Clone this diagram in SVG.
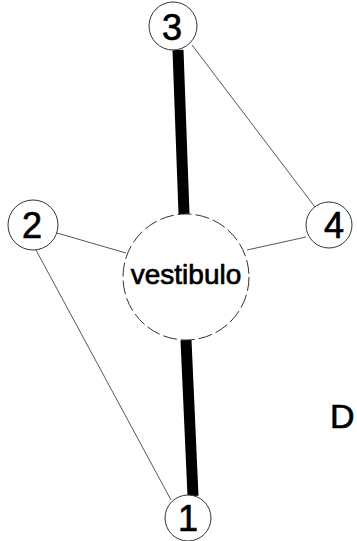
<svg xmlns="http://www.w3.org/2000/svg" width="357" height="541" viewBox="0 0 357 541">
<style>
.n{fill:#fff;stroke:#333;stroke-width:1}
.t{font-family:"Liberation Sans",Arial,sans-serif;fill:#000;stroke:#000;stroke-width:0.7}
.d{font-size:36px;text-anchor:middle}
.thin{stroke:#444;stroke-width:0.9;fill:none}
.thick{stroke:#000;stroke-width:11;fill:none}
</style>
<rect width="357" height="541" fill="#fff"/>
<g id="connectors">
<line class="thin" x1="192" y1="45" x2="315" y2="207"/>
<line class="thin" x1="57" y1="233" x2="126" y2="253"/>
<line class="thin" x1="306" y1="237" x2="247" y2="250"/>
<line class="thin" x1="36" y1="250" x2="171" y2="500"/>
<line class="thick" x1="178" y1="50" x2="184" y2="214"/>
<line class="thick" x1="186" y1="340" x2="193" y2="496"/>
</g>
<g id="vestibulo">
<circle cx="186" cy="277" r="63" fill="#fff" stroke="#333" stroke-width="1" stroke-dasharray="14 4"/>
<text class="t" x="186" y="284" font-size="28" text-anchor="middle">vestibulo</text>
</g>
<g id="n3"><circle class="n" cx="173" cy="26" r="24"/><text class="t d" x="172" y="40">3</text></g>
<g id="n2"><circle class="n" cx="33" cy="225" r="25"/><text class="t d" x="32" y="238">2</text></g>
<g id="n4"><circle class="n" cx="329" cy="225" r="23"/><text class="t d" x="334" y="238">4</text></g>
<g id="n1"><circle class="n" cx="188" cy="518" r="23"/><text class="t d" x="188" y="531">1</text></g>
<text class="t" x="330" y="428" font-size="34">D</text>
</svg>
